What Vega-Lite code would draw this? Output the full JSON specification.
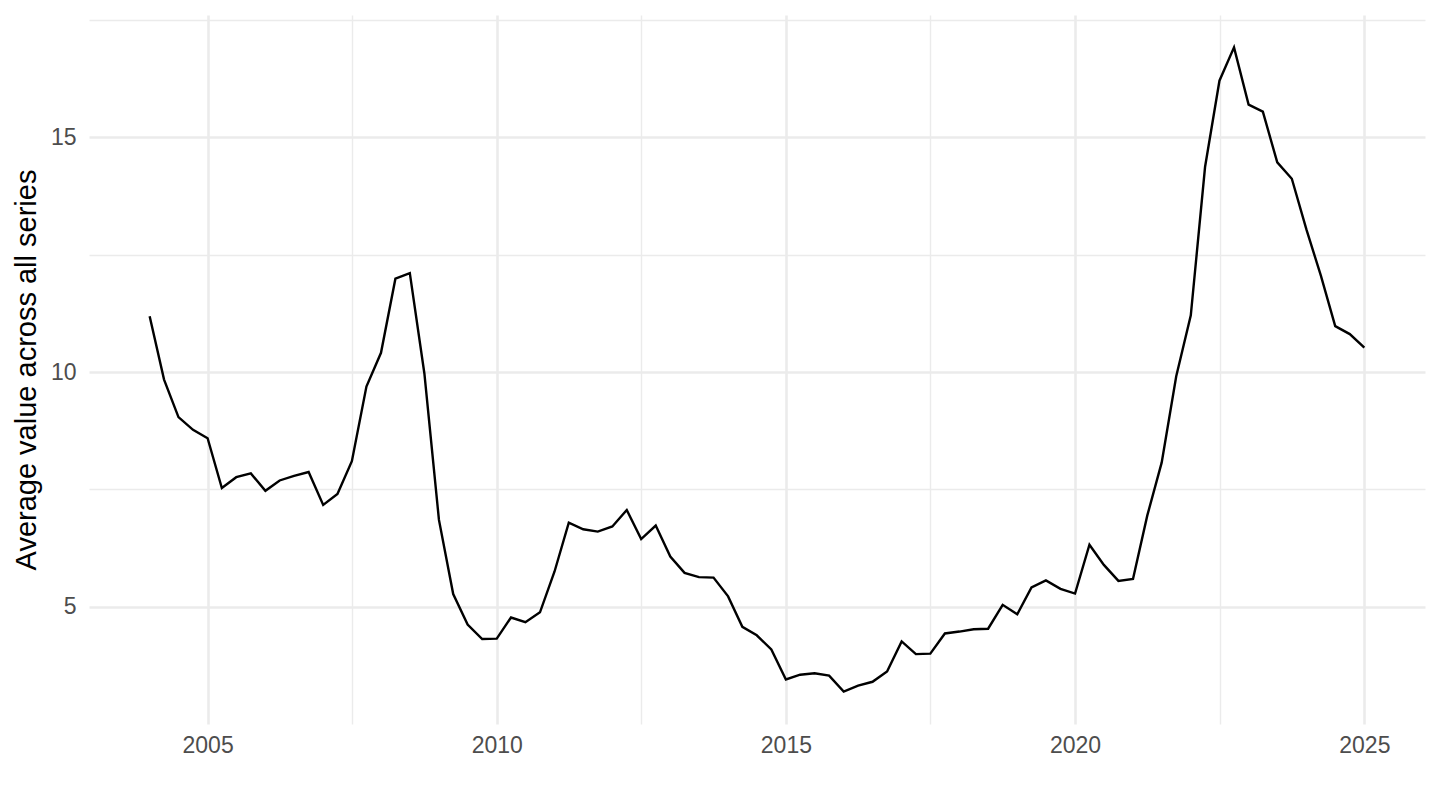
{
  "$schema": "https://vega.github.io/schema/vega-lite/v6.json",
  "width": 1336,
  "height": 709,
  "autosize": "none",
  "padding": {"left": 89, "top": 15, "right": 15, "bottom": 86},
  "config": {
    "view": {"stroke": null},
    "font": "Liberation Sans",
    "axis": {
      "domain": false,
      "ticks": false,
      "tickSize": 0,
      "gridColor": "#EBEBEB",
      "labelColor": "#4D4D4D",
      "labelFontSize": 23,
      "labelFont": "Liberation Sans",
      "labelOverlap": false,
      "titleFont": "Liberation Sans",
      "titleFontSize": 29,
      "titleFontWeight": "normal",
      "titleColor": "black"
    }
  },
  "data": {
    "values": [
      {"date": "2004-01-01T00:00:00", "value": 11.19},
      {"date": "2004-04-01T00:00:00", "value": 9.84},
      {"date": "2004-07-01T00:00:00", "value": 9.04},
      {"date": "2004-10-01T00:00:00", "value": 8.77},
      {"date": "2005-01-01T00:00:00", "value": 8.59},
      {"date": "2005-04-01T00:00:00", "value": 7.53},
      {"date": "2005-07-01T00:00:00", "value": 7.76},
      {"date": "2005-10-01T00:00:00", "value": 7.84},
      {"date": "2006-01-01T00:00:00", "value": 7.47},
      {"date": "2006-04-01T00:00:00", "value": 7.69},
      {"date": "2006-07-01T00:00:00", "value": 7.79},
      {"date": "2006-10-01T00:00:00", "value": 7.87},
      {"date": "2007-01-01T00:00:00", "value": 7.17},
      {"date": "2007-04-01T00:00:00", "value": 7.40},
      {"date": "2007-07-01T00:00:00", "value": 8.10},
      {"date": "2007-10-01T00:00:00", "value": 9.69},
      {"date": "2008-01-01T00:00:00", "value": 10.41},
      {"date": "2008-04-01T00:00:00", "value": 11.99},
      {"date": "2008-07-01T00:00:00", "value": 12.11},
      {"date": "2008-10-01T00:00:00", "value": 9.97},
      {"date": "2009-01-01T00:00:00", "value": 6.85},
      {"date": "2009-04-01T00:00:00", "value": 5.27},
      {"date": "2009-07-01T00:00:00", "value": 4.62},
      {"date": "2009-10-01T00:00:00", "value": 4.31},
      {"date": "2010-01-01T00:00:00", "value": 4.32},
      {"date": "2010-04-01T00:00:00", "value": 4.77},
      {"date": "2010-07-01T00:00:00", "value": 4.67},
      {"date": "2010-10-01T00:00:00", "value": 4.88},
      {"date": "2011-01-01T00:00:00", "value": 5.75},
      {"date": "2011-04-01T00:00:00", "value": 6.79},
      {"date": "2011-07-01T00:00:00", "value": 6.65},
      {"date": "2011-10-01T00:00:00", "value": 6.60},
      {"date": "2012-01-01T00:00:00", "value": 6.71},
      {"date": "2012-04-01T00:00:00", "value": 7.06},
      {"date": "2012-07-01T00:00:00", "value": 6.44},
      {"date": "2012-10-01T00:00:00", "value": 6.73},
      {"date": "2013-01-01T00:00:00", "value": 6.07},
      {"date": "2013-04-01T00:00:00", "value": 5.72},
      {"date": "2013-07-01T00:00:00", "value": 5.63},
      {"date": "2013-10-01T00:00:00", "value": 5.62},
      {"date": "2014-01-01T00:00:00", "value": 5.22},
      {"date": "2014-04-01T00:00:00", "value": 4.57},
      {"date": "2014-07-01T00:00:00", "value": 4.39},
      {"date": "2014-10-01T00:00:00", "value": 4.09},
      {"date": "2015-01-01T00:00:00", "value": 3.45},
      {"date": "2015-04-01T00:00:00", "value": 3.55},
      {"date": "2015-07-01T00:00:00", "value": 3.58},
      {"date": "2015-10-01T00:00:00", "value": 3.53},
      {"date": "2016-01-01T00:00:00", "value": 3.19},
      {"date": "2016-04-01T00:00:00", "value": 3.32},
      {"date": "2016-07-01T00:00:00", "value": 3.40},
      {"date": "2016-10-01T00:00:00", "value": 3.62},
      {"date": "2017-01-01T00:00:00", "value": 4.26},
      {"date": "2017-04-01T00:00:00", "value": 3.99},
      {"date": "2017-07-01T00:00:00", "value": 4.00},
      {"date": "2017-10-01T00:00:00", "value": 4.43},
      {"date": "2018-01-01T00:00:00", "value": 4.47},
      {"date": "2018-04-01T00:00:00", "value": 4.52},
      {"date": "2018-07-01T00:00:00", "value": 4.53},
      {"date": "2018-10-01T00:00:00", "value": 5.04},
      {"date": "2019-01-01T00:00:00", "value": 4.84},
      {"date": "2019-04-01T00:00:00", "value": 5.41},
      {"date": "2019-07-01T00:00:00", "value": 5.56},
      {"date": "2019-10-01T00:00:00", "value": 5.38},
      {"date": "2020-01-01T00:00:00", "value": 5.28},
      {"date": "2020-04-01T00:00:00", "value": 6.32},
      {"date": "2020-07-01T00:00:00", "value": 5.89},
      {"date": "2020-10-01T00:00:00", "value": 5.55},
      {"date": "2021-01-01T00:00:00", "value": 5.59},
      {"date": "2021-04-01T00:00:00", "value": 6.94},
      {"date": "2021-07-01T00:00:00", "value": 8.07},
      {"date": "2021-10-01T00:00:00", "value": 9.91},
      {"date": "2022-01-01T00:00:00", "value": 11.21},
      {"date": "2022-04-01T00:00:00", "value": 14.37},
      {"date": "2022-07-01T00:00:00", "value": 16.21},
      {"date": "2022-10-01T00:00:00", "value": 16.92},
      {"date": "2023-01-01T00:00:00", "value": 15.70},
      {"date": "2023-04-01T00:00:00", "value": 15.55},
      {"date": "2023-07-01T00:00:00", "value": 14.47},
      {"date": "2023-10-01T00:00:00", "value": 14.12},
      {"date": "2024-01-01T00:00:00", "value": 13.04},
      {"date": "2024-04-01T00:00:00", "value": 12.06},
      {"date": "2024-07-01T00:00:00", "value": 10.98},
      {"date": "2024-10-01T00:00:00", "value": 10.81},
      {"date": "2025-01-01T00:00:00", "value": 10.52}
    ]
  },
  "mark": {"type": "line", "color": "black", "strokeWidth": 2.4},
  "encoding": {
    "x": {
      "field": "date",
      "type": "temporal",
      "title": null,
      "scale": {
        "domain": [
          {"year": 2002, "month": 12, "date": 14},
          {"year": 2026, "month": 1, "date": 19}
        ]
      },
      "axis": {
        "values": [
          {"year": 2005, "month": 1, "date": 1},
          {"year": 2007, "month": 7, "date": 2},
          {"year": 2010, "month": 1, "date": 1},
          {"year": 2012, "month": 7, "date": 2},
          {"year": 2015, "month": 1, "date": 1},
          {"year": 2017, "month": 7, "date": 2},
          {"year": 2020, "month": 1, "date": 1},
          {"year": 2022, "month": 7, "date": 2},
          {"year": 2025, "month": 1, "date": 1}
        ],
        "labelExpr": "month(datum.value) === 0 ? timeFormat(datum.value, '%Y') : ''",
        "gridWidth": {"condition": {"test": "month(datum.value) === 0", "value": 2.6}, "value": 1.4},
        "labelPadding": 10
      }
    },
    "y": {
      "field": "value",
      "type": "quantitative",
      "title": "Average value across all series",
      "scale": {"domain": [2.5, 17.61], "nice": false, "zero": false},
      "axis": {
        "values": [5, 7.5, 10, 12.5, 15, 17.5],
        "labelExpr": "datum.value % 5 === 0 ? datum.label : ''",
        "gridWidth": {"condition": {"test": "datum.value % 5 === 0", "value": 2.6}, "value": 1.4},
        "labelPadding": 13,
        "titlePadding": 9
      }
    }
  }
}
